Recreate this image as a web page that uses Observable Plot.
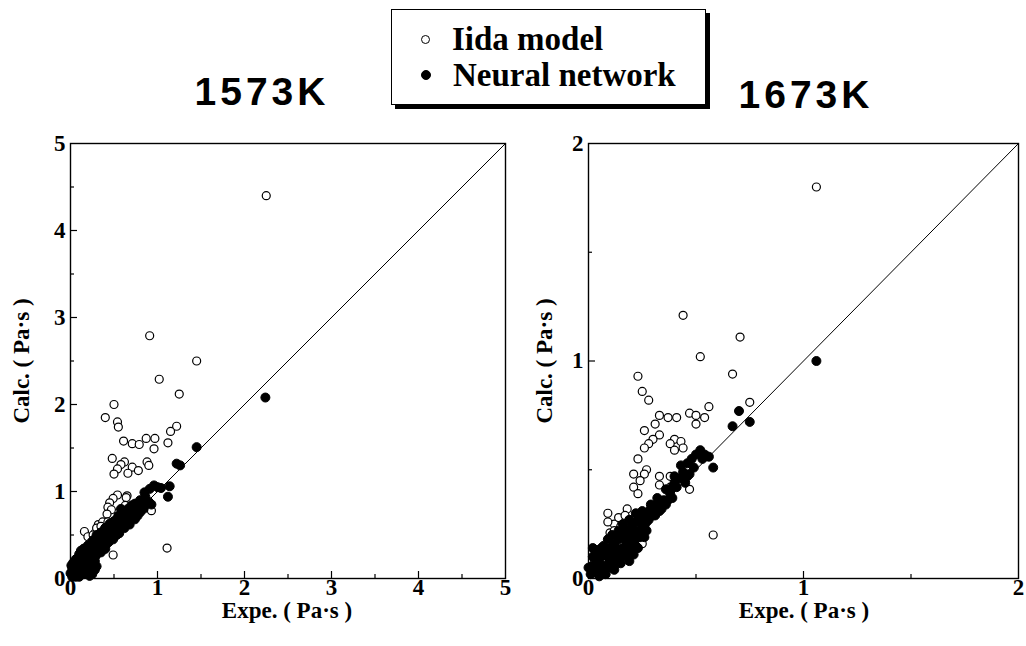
<!DOCTYPE html>
<html><head><meta charset="utf-8">
<script src="https://cdn.jsdelivr.net/npm/d3@7"></script>
<script src="https://cdn.jsdelivr.net/npm/@observablehq/plot@0.6"></script>
<style>
body{margin:0;background:#fff;}
#root{position:relative;width:1026px;height:646px;background:#fff;overflow:hidden;}
.abs{position:absolute;}
.serif{font-family:"Liberation Serif","Times New Roman",serif;font-weight:bold;color:#000;}
.title{font-family:"Liberation Sans",Arial,sans-serif;font-weight:bold;font-size:39px;letter-spacing:4px;color:#000;line-height:40px;}
</style></head>
<body><div id="root"></div>
<script>
// ---- data ----
const leftIidaX = [2.25,0.91,1.45,1.02,1.25,0.50,0.40,0.54,0.55,1.22,1.15,0.61,0.71,0.79,0.87,0.97,0.96,1.12,0.48,0.62,0.58,0.54,0.50,0.71,0.66,0.78,0.88,0.90,0.54,0.49,0.45,0.43,0.47,0.42,0.65,0.64,0.63,0.73,0.93,1.11,0.49,0.16,0.20,0.28,0.32,0.16,0.24,0.37,0.43,0.30,0.22,0.12,0.35,0.26];
const leftIidaY = [4.40,2.79,2.50,2.29,2.12,2.00,1.85,1.80,1.74,1.75,1.69,1.58,1.55,1.54,1.61,1.61,1.49,1.56,1.38,1.34,1.31,1.26,1.20,1.28,1.21,1.24,1.34,1.30,0.96,0.92,0.87,0.82,0.79,0.74,0.95,0.93,0.84,0.83,0.78,0.35,0.27,0.54,0.48,0.52,0.62,0.35,0.42,0.65,0.65,0.58,0.40,0.30,0.60,0.50];
const leftNNX = [2.24,1.45,1.22,1.26,1.14,1.12,0.96,1.04,0.85,0.91,1.00,0.88,0.82,0.93,0.76,0.80,0.72,0.70,0.74,0.66,0.64,0.68,0.60,0.58,0.62,0.55,0.52,0.56,0.50,0.48,0.46,0.50,0.44,0.42,0.45,0.40,0.38,0.42,0.36,0.35,0.33,0.38,0.32,0.30,0.28,0.33,0.27,0.30,0.25,0.24,0.22,0.26,0.20,0.22,0.18,0.16,0.18,0.14,0.15,0.12,0.10,0.12,0.08,0.06,0.08,0.05,0.03,0.04,0.02,0.10,0.20,0.18,0.24,0.14,0.28,0.35,0.40,0.30,0.26,0.22,0.60,0.64,0.58,0.70,0.52,0.55,0.46,0.40,
  0.02,0.04,0.06,0.07,0.09,0.11,0.13,0.13,0.15,0.17,0.19,0.21,0.23,0.25,0.21,0.16,0.23,0.25,0.27,0.29,0.31,0.29,0.32,0.34,0.36,0.37,0.39,0.41,0.43,0.44,0.47,0.49,0.51,0.53,0.54,0.57,0.59,0.61,0.63,0.66,0.67,0.69,0.73,0.77,0.78,0.84,0.86,0.90,
  0.10,0.12,0.15,0.18,0.20,0.24,0.28,0.32,0.34,0.38,0.42,0.44,0.48,0.52,0.56,0.60,0.64,0.68,0.72,0.76,0.82,0.08,0.05,0.02,0.00,0.01,0.25,0.22,0.28,0.30,0.06,0.10,
  0.30,0.35,0.40,0.45,0.50,0.55,0.62,0.66,0.74,0.80,0.86,0.20,0.15,0.10,0.06,0.03];
const leftNNY = [2.08,1.51,1.32,1.30,1.06,0.94,1.07,1.04,0.99,1.03,1.05,0.86,0.84,0.85,0.80,0.76,0.78,0.72,0.68,0.70,0.64,0.62,0.66,0.60,0.58,0.62,0.56,0.52,0.60,0.52,0.56,0.48,0.50,0.54,0.45,0.48,0.44,0.42,0.50,0.40,0.46,0.36,0.38,0.42,0.36,0.32,0.30,0.28,0.34,0.26,0.30,0.22,0.24,0.18,0.28,0.20,0.14,0.24,0.12,0.18,0.14,0.08,0.12,0.16,0.06,0.09,0.05,0.12,0.08,0.04,0.06,0.08,0.10,0.05,0.20,0.30,0.34,0.50,0.44,0.38,0.72,0.76,0.80,0.84,0.66,0.72,0.62,0.58,
  0.02,0.03,0.04,0.10,0.08,0.11,0.10,0.15,0.17,0.11,0.19,0.21,0.16,0.18,0.12,0.08,0.24,0.28,0.25,0.32,0.30,0.26,0.34,0.36,0.33,0.38,0.41,0.39,0.46,0.42,0.48,0.45,0.52,0.50,0.58,0.56,0.63,0.61,0.68,0.66,0.74,0.68,0.74,0.72,0.84,0.80,0.90,0.88,
  0.25,0.32,0.30,0.33,0.36,0.40,0.44,0.48,0.52,0.54,0.58,0.60,0.64,0.62,0.68,0.74,0.72,0.78,0.80,0.86,0.88,0.20,0.15,0.12,0.06,0.15,0.05,0.03,0.10,0.14,0.02,0.02,
  0.47,0.53,0.58,0.63,0.66,0.71,0.76,0.80,0.86,0.90,0.94,0.38,0.34,0.28,0.22,0.18];

const rightIidaX = [1.06,0.44,0.705,0.52,0.67,0.75,0.23,0.25,0.28,0.56,0.47,0.50,0.54,0.50,0.37,0.41,0.33,0.31,0.26,0.33,0.30,0.28,0.26,0.40,0.43,0.38,0.40,0.44,0.23,0.27,0.21,0.26,0.24,0.21,0.23,0.33,0.38,0.33,0.38,0.47,0.58,0.09,0.12,0.09,0.14,0.18,0.17,0.10,0.25,0.15,0.20,0.12];
const rightIidaY = [1.80,1.21,1.11,1.02,0.94,0.81,0.93,0.86,0.82,0.79,0.76,0.75,0.74,0.71,0.74,0.74,0.75,0.71,0.68,0.66,0.64,0.62,0.60,0.64,0.63,0.62,0.59,0.60,0.55,0.50,0.48,0.48,0.45,0.42,0.39,0.47,0.47,0.43,0.42,0.41,0.20,0.30,0.25,0.26,0.28,0.32,0.29,0.21,0.16,0.24,0.27,0.22];
const rightNNX = [1.06,0.70,0.67,0.75,0.50,0.52,0.54,0.56,0.58,0.46,0.44,0.46,0.44,0.45,0.47,0.40,0.40,0.41,0.38,0.39,0.36,0.32,0.30,0.28,0.26,0.24,0.27,0.22,0.25,0.20,0.22,0.18,0.20,0.16,0.18,0.14,0.16,0.12,0.14,0.10,0.12,0.08,0.10,0.06,0.08,0.04,0.05,0.02,0.02,0.12,0.15,0.18,0.22,0.30,0.34,0.26,0.13,0.06,0.03,0.20,0.24,
  0.01,0.03,0.04,0.05,0.07,0.07,0.09,0.09,0.10,0.11,0.11,0.13,0.13,0.14,0.15,0.16,0.17,0.17,0.19,0.19,0.19,0.21,0.21,0.22,0.23,0.23,0.24,0.25,0.26,0.27,0.28,0.29,0.31,0.32,0.33,0.35,0.36,0.37,0.39,0.42,0.43,0.48,0.49,0.53,0.00,0.02,0.05,0.08];
const rightNNY = [1.00,0.77,0.70,0.72,0.57,0.59,0.57,0.56,0.51,0.53,0.49,0.47,0.46,0.44,0.48,0.47,0.44,0.42,0.39,0.37,0.34,0.34,0.33,0.31,0.30,0.28,0.26,0.26,0.23,0.24,0.21,0.22,0.18,0.20,0.16,0.18,0.14,0.16,0.12,0.14,0.10,0.12,0.08,0.10,0.06,0.08,0.04,0.06,0.10,0.04,0.07,0.10,0.15,0.29,0.32,0.24,0.20,0.14,0.03,0.13,0.19,
  0.02,0.10,0.13,0.07,0.03,0.15,0.10,0.18,0.05,0.12,0.20,0.07,0.14,0.22,0.10,0.25,0.13,0.18,0.08,0.21,0.27,0.11,0.17,0.30,0.14,0.22,0.26,0.31,0.19,0.22,0.27,0.34,0.29,0.37,0.31,0.36,0.41,0.36,0.42,0.46,0.52,0.55,0.51,0.55,0.05,0.14,0.01,0.02];

const leftMajor = [0,1,2,3,4,5];
const leftMinor = [0.5,1.5,2.5,3.5,4.5];
const rightMajor = [0,1,2];
const rightMinor = [0.5,1.5];
const titles = ["1573K","1673K"];
const legendLabels = ["Iida model","Neural network"];
const xLabel = "Expe. ( Pa\u00b7s )";
const yLabel = "Calc. ( Pa\u00b7s )";

// ---- build ----
const zip = (xs, ys) => xs.map((x,i) => ({x, y: ys[i]}));
const root = document.getElementById("root");

function panel({left, width, xMax, major, minor, iX, iY, nX, nY, marginLeft, marginRight}) {
  const height = 646, marginTop = 143, marginBottom = 68;
  const innerH = height - marginTop - marginBottom;
  const innerW = width - marginLeft - marginRight;
  const kx = xMax / innerW, ky = xMax / innerH; // data units per pixel
  const majorTicks = major.filter(d => d > 0 && d < xMax);
  const fontOpts = {fontFamily: "Liberation Serif", fontWeight: "bold", fontSize: 23};
  const p = Plot.plot({
    width, height, marginTop, marginBottom, marginLeft, marginRight,
    style: {background: "transparent", overflow: "visible"},
    x: {domain: [0, xMax]},
    y: {domain: [0, xMax]},
    marks: [
      Plot.axisX(major, {tickSize: 0, tickPadding: 0, label: null, tickFormat: d => String(d), ...fontOpts}),
      Plot.axisY(major, {tickSize: 0, tickPadding: 5, label: null, tickFormat: d => String(d), ...fontOpts}),
      Plot.ruleX(majorTicks, {x: d => d, y1: 0, y2: 7 * ky, stroke: "#000", strokeWidth: 1.2}),
      Plot.ruleX(minor, {x: d => d, y1: 0, y2: 4 * ky, stroke: "#000", strokeWidth: 1.2}),
      Plot.ruleY(majorTicks, {y: d => d, x1: 0, x2: 7 * kx, stroke: "#000", strokeWidth: 1.2}),
      Plot.ruleY(minor, {y: d => d, x1: 0, x2: 4 * kx, stroke: "#000", strokeWidth: 1.2}),
      Plot.line([0, xMax], {x: d => d, y: d => d, stroke: "#000", strokeWidth: 1}),
      Plot.dot(zip(iX, iY), {x: "x", y: "y", r: 4, stroke: "#000", strokeWidth: 1.2, fill: "#fff"}),
      Plot.dot(zip(nX, nY), {x: "x", y: "y", r: 4.5, stroke: "#000", strokeWidth: 1, fill: "#000"}),
      Plot.frame({stroke: "#000", strokeWidth: 1.4})
    ]
  });
  p.style.position = "absolute";
  p.style.left = left + "px";
  p.style.top = "0px";
  root.appendChild(p);
}

panel({left: 0, width: 515, xMax: 5, major: leftMajor, minor: leftMinor,
  iX: leftIidaX, iY: leftIidaY, nX: leftNNX, nY: leftNNY, marginLeft: 70, marginRight: 10});
panel({left: 520, width: 506, xMax: 2, major: rightMajor, minor: rightMinor,
  iX: rightIidaX, iY: rightIidaY, nX: rightNNX, nY: rightNNY, marginLeft: 68, marginRight: 8});

function addDiv(cls, text, css) {
  const d = document.createElement("div");
  d.className = "abs " + cls;
  d.textContent = text;
  Object.assign(d.style, css);
  root.appendChild(d);
  return d;
}
// titles
addDiv("title", titles[0], {left: "180px", top: "72px", width: "164px", textAlign: "center"});
addDiv("title", titles[1], {left: "724px", top: "75px", width: "164px", textAlign: "center"});
// axis labels
addDiv("serif", xLabel, {left: "187px", top: "600px", width: "200px", textAlign: "center", fontSize: "23px", lineHeight: "22px"});
addDiv("serif", xLabel, {left: "704px", top: "600px", width: "200px", textAlign: "center", fontSize: "23px", lineHeight: "22px"});
addDiv("serif", yLabel, {left: "-78px", top: "349px", width: "200px", textAlign: "center", fontSize: "23px", lineHeight: "24px", transform: "rotate(-90deg)"});
addDiv("serif", yLabel, {left: "445px", top: "349px", width: "200px", textAlign: "center", fontSize: "23px", lineHeight: "24px", transform: "rotate(-90deg)"});

// legend
const leg = document.createElement("div");
leg.className = "abs";
Object.assign(leg.style, {left: "391px", top: "9px", width: "315px", height: "96px", border: "1.5px solid #000",
  boxShadow: "4px 4px 0 #000", background: "#fff", boxSizing: "border-box"});
root.appendChild(leg);
legendLabels.forEach((lab, i) => {
  const row = document.createElement("div");
  row.className = "abs serif";
  Object.assign(row.style, {left: "29px", top: (12 + i * 36) + "px", fontSize: "33px", lineHeight: "34px", whiteSpace: "nowrap"});
  const mk = document.createElement("span");
  Object.assign(mk.style, {display: "inline-block", width: i === 0 ? "9px" : "10px", height: i === 0 ? "9px" : "10px", borderRadius: "50%",
    border: "1.2px solid #000", background: i === 0 ? "#fff" : "#000", marginRight: "22px", verticalAlign: "middle", boxSizing: "border-box", position: "relative", top: "-3px"});
  row.appendChild(mk);
  row.appendChild(document.createTextNode(lab));
  leg.appendChild(row);
});
</script>
</body></html>
